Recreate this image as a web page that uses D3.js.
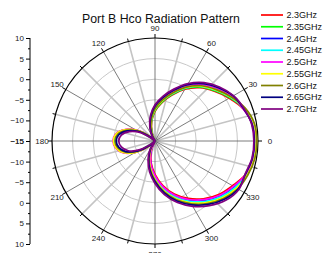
<!DOCTYPE html>
<html>
<head>
<meta charset="utf-8">
<script src="https://cdn.jsdelivr.net/npm/d3@7"></script>
<style>
  body { margin: 0; background: #fff; }
  svg { display: block; font-family: "Liberation Sans", Arial, sans-serif; }
</style>
</head>
<body>
<svg id="chart" width="328" height="253"></svg>
<script>
// angles every 10 deg, counter-clockwise from 0 (right)
const angles = d3.range(0, 360, 10)

const seriesNames = ['2.3GHz', '2.35GHz', '2.4GHz', '2.45GHz', '2.5GHz', '2.55GHz', '2.6GHz', '2.65GHz', '2.7GHz']
const seriesColors = ['#ff0000', '#00ff00', '#0000ff', '#00ffff', '#ff00ff', '#ffff00', '#808000', '#000080', '#800080']

// gain in dB, one value per angle
const g230 = [9.2, 9.0, 7.8, 5.8, 3.8, 1.9, -0.5, -3.2, -5.6, -7.8, -10.3, -12.9, -15, -15, -12.9, -9.7, -7.1, -5.4, -4.9, -5.4, -6.8, -9.5, -12.7, -15, -14.7, -12.3, -9.6, -6.9, -4.0, -1.3, 1.1, 3.3, 5.2, 6.7, 8.5, 9.1]
const g235 = [9.5, 9.3, 8.1, 6.0, 4.0, 2.1, -0.3, -3.0, -5.4, -7.6, -10.1, -12.7, -14.9, -15, -13.0, -9.8, -7.2, -5.5, -5.0, -5.5, -6.9, -9.6, -12.8, -15, -13.7, -11.3, -8.6, -5.9, -3.0, -0.3, 2.1, 4.3, 6.2, 7.7, 8.8, 9.4]
const g240 = [9.3, 9.1, 7.9, 6.6, 4.6, 2.7, 0.3, -2.4, -4.8, -7.0, -9.5, -12.1, -14.3, -15, -13.2, -10.0, -7.4, -5.7, -5.2, -5.7, -7.1, -9.8, -13.0, -15, -14.2, -11.8, -9.1, -6.4, -3.5, -0.8, 1.6, 3.8, 5.7, 7.2, 8.6, 9.2]
const g245 = [9.4, 9.2, 8.0, 6.2, 4.2, 2.3, -0.1, -2.8, -5.2, -7.4, -9.9, -12.5, -14.7, -15, -13.1, -9.9, -7.3, -5.6, -5.1, -5.6, -7.0, -9.7, -12.9, -15, -13.9, -11.5, -8.8, -6.1, -3.2, -0.5, 1.9, 4.1, 6.0, 7.5, 8.7, 9.3]
const g250 = [9.2, 9.0, 7.8, 6.7, 4.7, 2.8, 0.4, -2.3, -4.7, -6.9, -9.4, -12.0, -14.2, -15, -12.8, -9.6, -7.0, -5.3, -4.8, -5.3, -6.7, -9.4, -12.6, -15, -14.4, -12.0, -9.3, -6.6, -3.7, -1.0, 1.4, 3.6, 5.5, 7.0, 8.5, 9.1]
const g255 = [9.6, 9.4, 8.2, 6.3, 4.3, 2.4, 0.0, -2.7, -5.1, -7.3, -9.8, -12.4, -14.6, -15, -12.9, -9.7, -7.1, -5.4, -4.9, -5.4, -6.8, -9.5, -12.7, -15, -13.5, -11.1, -8.4, -5.7, -2.8, -0.1, 2.3, 4.5, 6.4, 7.9, 8.9, 9.5]
const g260 = [9.7, 9.5, 8.3, 6.4, 4.4, 2.5, 0.1, -2.6, -5.0, -7.2, -9.7, -12.3, -14.5, -15, -13.3, -10.1, -7.5, -5.8, -5.3, -5.8, -7.2, -9.9, -13.1, -15, -13.2, -10.8, -8.1, -5.4, -2.5, 0.2, 2.6, 4.8, 6.7, 8.2, 9.0, 9.6]
const g265 = [9.1, 8.9, 7.9, 6.9, 5.1, 3.2, 0.8, -1.9, -4.3, -6.5, -9.0, -11.6, -13.8, -15, -13.6, -10.4, -7.8, -6.1, -5.6, -6.1, -7.5, -10.2, -13.4, -15, -12.9, -10.5, -7.8, -5.1, -2.2, 0.5, 2.9, 5.1, 7.0, 8.3, 8.4, 9.0]
const g270 = [9.0, 8.8, 8.0, 7.0, 5.4, 3.5, 1.1, -1.6, -4.0, -6.2, -8.7, -11.3, -13.5, -15, -14.2, -11.0, -8.4, -6.7, -6.2, -6.7, -8.1, -10.8, -14.0, -15, -12.5, -10.1, -7.4, -4.7, -1.8, 0.9, 3.3, 5.5, 7.4, 8.5, 8.3, 8.9]

const seriesValues = [g230, g235, g240, g245, g250, g255, g260, g265, g270]

const radialTicks = [-15, -10, -5, 0, 5, 10]
const radialMinor = [-12.5, -7.5, -2.5, 2.5, 7.5]
const angleTicks = d3.range(0, 360, 30)

//
const svg = d3.select('#chart')
const cx = 155
const cy = 141
const R = 103

const rScale = d3.scaleLinear().domain([-15, 10]).range([0, R]).clamp(true)
const toRad = d => d * Math.PI / 180
const px = (deg, r) => cx + r * Math.cos(toRad(deg))
const py = (deg, r) => cy - r * Math.sin(toRad(deg))

const grid = svg.append('g')

// grid circles
grid.selectAll('circle.ring')
  .data(radialTicks.slice(1, -1))
  .join('circle')
  .attr('class', 'ring')
  .attr('cx', cx).attr('cy', cy)
  .attr('r', d => rScale(d))
  .attr('fill', 'none')
  .attr('stroke', '#c8c8c8')
  .attr('stroke-width', 1)

// minor spokes (15 deg offsets)
grid.selectAll('line.minor')
  .data(d3.range(15, 360, 30))
  .join('line')
  .attr('class', 'minor')
  .attr('x1', cx).attr('y1', cy)
  .attr('x2', d => px(d, R)).attr('y2', d => py(d, R))
  .attr('stroke', '#c4c4c4')
  .attr('stroke-width', 1.6)

// major spokes
grid.selectAll('line.major')
  .data(angleTicks)
  .join('line')
  .attr('class', 'major')
  .attr('x1', cx).attr('y1', cy)
  .attr('x2', d => px(d, R)).attr('y2', d => py(d, R))
  .attr('stroke', '#5a5a5a')
  .attr('stroke-width', 0.8)

// outer circle + ticks
grid.append('circle')
  .attr('cx', cx).attr('cy', cy).attr('r', R)
  .attr('fill', 'none').attr('stroke', '#000').attr('stroke-width', 1.2)
grid.selectAll('line.otick')
  .data(d3.range(0, 360, 15))
  .join('line')
  .attr('class', 'otick')
  .attr('x1', d => px(d, R)).attr('y1', d => py(d, R))
  .attr('x2', d => px(d, R + (d % 30 ? 3 : 4))).attr('y2', d => py(d, R + (d % 30 ? 3 : 4)))
  .attr('stroke', '#000').attr('stroke-width', 1)

// angle labels
svg.append('g').selectAll('text')
  .data(angleTicks)
  .join('text')
  .attr('x', d => px(d, 113) + (d === 0 ? 2 : 0))
  .attr('y', d => py(d, 113))
  .attr('text-anchor', 'middle')
  .attr('dominant-baseline', 'central')
  .attr('font-size', 8)
  .attr('fill', '#222')
  .text(d => d)

// pattern curves
const line = d3.lineRadial()
  .angle((d, i) => Math.PI / 2 - toRad(angles[i]))
  .radius(d => rScale(d))
  .curve(d3.curveCatmullRomClosed.alpha(0.5))

svg.append('g')
  .attr('transform', `translate(${cx},${cy})`)
  .selectAll('path')
  .data(seriesValues)
  .join('path')
  .attr('d', d => line(d))
  .attr('fill', 'none')
  .attr('stroke', (d, i) => seriesColors[i])
  .attr('stroke-width', 1.7)

// radial axis at left (two halves)
const axisX = 30
const yUp = d3.scaleLinear().domain([-15, 10]).range([cy, cy - R])
const yDown = d3.scaleLinear().domain([-15, 10]).range([cy, cy + R])
;[yUp, yDown].forEach(s => {
  const g = svg.append('g').attr('transform', `translate(${axisX},0)`)
  g.call(d3.axisLeft(s).tickValues(radialTicks).tickSize(4).tickPadding(2).tickFormat(d3.format('d')))
  g.append('g').call(d3.axisLeft(s).tickValues(radialMinor).tickSize(2).tickFormat(''))
  g.selectAll('.domain').remove()
  g.selectAll('text').attr('font-size', 8).attr('font-family', '"Liberation Sans", Arial, sans-serif').attr('fill', '#222')
  g.selectAll('line').attr('stroke', '#000')
})
svg.append('line')
  .attr('x1', axisX).attr('x2', axisX)
  .attr('y1', cy - R).attr('y2', cy + R)
  .attr('stroke', '#000').attr('stroke-width', 1)

// title
svg.append('text')
  .attr('x', 161).attr('y', 23)
  .attr('text-anchor', 'middle')
  .attr('font-size', 12.3)
  .attr('fill', '#111')
  .text('Port B Hco Radiation Pattern')

// legend
const legend = svg.append('g').attr('transform', 'translate(261,15)')
const rows = legend.selectAll('g')
  .data(seriesNames)
  .join('g')
  .attr('transform', (d, i) => `translate(0,${i * 11.75})`)
rows.append('line')
  .attr('x1', 0).attr('x2', 22)
  .attr('stroke', (d, i) => seriesColors[i])
  .attr('stroke-width', 1.7)
rows.append('text')
  .attr('x', 25.5).attr('y', 0)
  .attr('dominant-baseline', 'central')
  .attr('font-size', 9)
  .attr('fill', '#111')
  .text(d => d)
</script>
</body>
</html>
